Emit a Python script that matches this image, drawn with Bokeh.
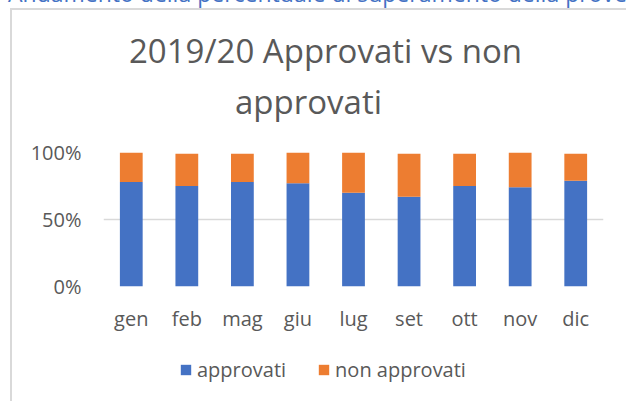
from bokeh.plotting import figure
from bokeh.layouts import column
from bokeh.models import (Range1d, FactorRange, FixedTicker, NumeralTickFormatter,
                          Legend, LegendItem, Label, ColumnDataSource, Div)
from bokeh.embed import file_html
from bokeh.resources import INLINE

# ---- data (percent) ----
months = ["gen", "feb", "mag", "giu", "lug", "set", "ott", "nov", "dic"]
approvati = [78, 75, 78, 77, 70, 67, 75, 74, 79]
non_approvati = [22, 24, 21, 23, 30, 32, 24, 26, 20]
y_ticks = [0, 50, 100]
series = ["approvati", "non approvati"]
colors = ["#4472C4", "#ED7D31"]
title_line1 = "2019/20 Approvati vs non"
title_line2 = "approvati"
page_heading = "Andamento della percentuale di superamento della prove"

FONT = "Open Sans"
GREY = "#595959"
W = 626

# page geometry (window pixels)
HEAD_H = 8                 # cut-off page heading
BX, BW = 10, 2             # chart-area border: left offset and line width
W_IN = W - BX - BW         # width of chart-area strips
TOP_H = 130 - HEAD_H - BW  # title strip
MAIN_H = 210               # plot strip
LEG_H = 401 - HEAD_H - BW - TOP_H - MAIN_H
FL = 103 - BX - BW         # frame left inside strips
FR = 603 - BX - BW         # frame right inside strips


def bare(fig):
    fig.outline_line_color = None
    fig.border_fill_color = None
    fig.background_fill_color = None
    return fig


# ---------- cut-off heading ----------
head = Div(text=('<div style="position:relative; top:-18px; left:8px; white-space:nowrap; '
                 'font-family:\'Open Sans\'; font-size:23px; line-height:23px; color:#4472C4;">'
                 + page_heading + '</div>'),
           width=W, height=HEAD_H, margin=(0, 0, 0, 0),
           styles={"overflow": "hidden"})

# ---------- title strip ----------
ptop = bare(figure(width=W_IN, height=TOP_H, x_range=Range1d(0, 1), y_range=Range1d(0, 1),
                   output_backend="svg", toolbar_location=None,
                   x_axis_location=None, y_axis_location=None, title=None,
                   min_border_left=FL, min_border_right=W_IN - FR,
                   min_border_top=0, min_border_bottom=0))
ptop.grid.visible = False
ptop.add_layout(Label(x=325 - 103, y=80, x_units="screen", y_units="screen",
                      text=title_line1, text_align="center", text_baseline="alphabetic",
                      text_font=FONT, text_font_size="33px", text_color=GREY))
ptop.add_layout(Label(x=308 - 103, y=29, x_units="screen", y_units="screen",
                      text=title_line2, text_align="center", text_baseline="alphabetic",
                      text_font=FONT, text_font_size="33px", text_color=GREY))

# ---------- main plot ----------
FT, FB = 152 - 130, 286 - 130

source = ColumnDataSource(dict(
    month=months,
    approvati=[v / 100 for v in approvati],
    **{"non approvati": [v / 100 for v in non_approvati]},
))

p = bare(figure(width=W_IN, height=MAIN_H,
                x_range=FactorRange(*months, range_padding=0),
                y_range=Range1d(0, 1),
                output_backend="svg", toolbar_location=None, title=None,
                min_border_left=FL, min_border_right=W_IN - FR,
                min_border_top=FT, min_border_bottom=MAIN_H - FB))

p.vbar_stack(series, x="month", width=0.41, color=colors, line_color=None, source=source)

p.xgrid.grid_line_color = None
p.ygrid.grid_line_color = "#D9D9D9"
p.ygrid.grid_line_width = 1.5

p.yaxis.ticker = FixedTicker(ticks=[t / 100 for t in y_ticks])
p.yaxis.formatter = NumeralTickFormatter(format="0%")
for ax in (p.xaxis[0], p.yaxis[0]):
    ax.axis_line_color = None
    ax.major_tick_line_color = None
    ax.minor_tick_line_color = None
    ax.major_tick_out = 0
    ax.major_tick_in = 0
    ax.major_label_text_font = FONT
    ax.major_label_text_font_size = "20px"
    ax.major_label_text_color = GREY
p.yaxis.major_label_standoff = 22
p.xaxis.major_label_standoff = 18

# ---------- legend strip (its bars sit outside its visible y range) ----------
pleg = bare(figure(width=W_IN, height=LEG_H,
                   x_range=FactorRange(*months, range_padding=0), y_range=Range1d(5, 6),
                   output_backend="svg", toolbar_location=None,
                   x_axis_location=None, y_axis_location=None, title=None,
                   min_border_left=FL, min_border_right=W_IN - FR,
                   min_border_top=0, min_border_bottom=0))
pleg.grid.visible = False
leg_r = pleg.vbar_stack(series, x="month", width=0.41, color=colors,
                        line_color=None, source=source)
legend = Legend(items=[LegendItem(label=series[i], renderers=[leg_r[i]]) for i in range(2)],
                orientation="horizontal", location=(179 - 103, 18),
                padding=0, margin=0, spacing=31, label_standoff=5,
                glyph_width=13, glyph_height=13, label_height=20,
                label_text_font=FONT, label_text_font_size="20px",
                label_text_color=GREY, border_line_color=None,
                background_fill_alpha=0)
pleg.add_layout(legend)

chart_area = column(ptop, p, pleg, spacing=0, margin=(0, 0, 0, BX),
                    styles={"border-left": f"{BW}px solid #D9D9D9",
                            "border-top": f"{BW}px solid #D9D9D9"})
layout = column(head, chart_area, spacing=0, styles={"background": "#FFFFFF"})

open("out.html", "w").write(file_html(layout, INLINE))
